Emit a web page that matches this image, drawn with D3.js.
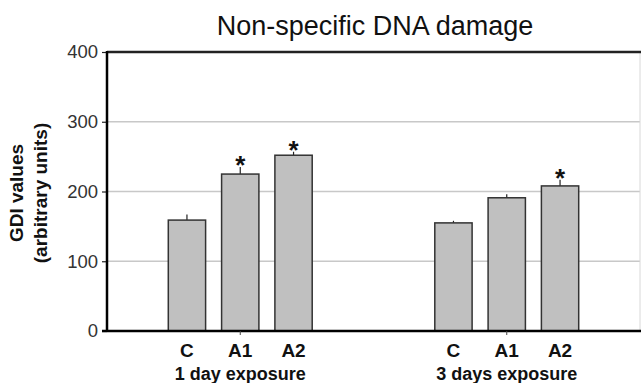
<!DOCTYPE html>
<html><head><meta charset="utf-8">
<script src="https://cdn.jsdelivr.net/npm/d3@7"></script>
<style>body{margin:0;background:#fff}svg{display:block}</style>
</head><body>
<svg id="c" width="641" height="383"></svg>
<script>
const slots = ["s0","C1","A11","A21","s4","s5","C3","A13","A23","s9"];
const barSlots = ["C1","A11","A21","C3","A13","A23"];
const barLabels = ["C","A1","A2","C","A1","A2"];
const values = [159, 225, 252, 155, 191, 208];
const errors = [8, 10, 5, 3, 5, 9];
const significant = [false, true, true, false, false, true];
const groupLabels = ["1 day exposure","3 days exposure"];
const groupCenters = ["A11","A13"];
const yTicks = [0,100,200,300,400];
const title = "Non-specific DNA damage";
const yTitle = ["GDI values","(arbitrary units)"];

const svg = d3.select("#c");
const L=107, R=640, T=52, B=331;
const font = "Liberation Sans, Arial, sans-serif";
const x = d3.scaleBand().domain(slots).range([L,R]).paddingInner(0.3).paddingOuter(0.15);
const y = d3.scaleLinear().domain([0,400]).range([B,T]);

// grid
svg.append("g").selectAll("line").data(yTicks.filter(d=>d>0&&d<400)).join("line")
  .attr("x1",L).attr("x2",R).attr("y1",d=>y(d)).attr("y2",d=>y(d))
  .attr("stroke","#c8c8c8").attr("stroke-width",1.3);

// right border
svg.append("line").attr("x1",R).attr("x2",R).attr("y1",T).attr("y2",B).attr("stroke","#d8d8d8");
// top border
svg.append("line").attr("x1",L).attr("x2",641).attr("y1",T).attr("y2",T).attr("stroke","#222").attr("stroke-width",2.5);

// bars
const bw = x.bandwidth();
svg.append("g").selectAll("line").data(values).join("line")
  .attr("x1",(d,i)=>x(barSlots[i])+bw/2).attr("x2",(d,i)=>x(barSlots[i])+bw/2)
  .attr("y1",d=>y(d)).attr("y2",(d,i)=>y(d+errors[i]))
  .attr("stroke","#222").attr("stroke-width",1.2);
svg.append("g").selectAll("rect").data(values).join("rect")
  .attr("x",(d,i)=>x(barSlots[i])).attr("width",bw)
  .attr("y",d=>y(d)).attr("height",d=>B-y(d))
  .attr("fill","#c0c0c0").attr("stroke","#333").attr("stroke-width",1.5);

// asterisks
svg.append("g").selectAll("text").data(values.map((d,i)=>({d,i})).filter(o=>significant[o.i])).join("text")
  .attr("x",o=>x(barSlots[o.i])+bw/2).attr("y",o=>y(o.d+errors[o.i])+7)
  .attr("text-anchor","middle").attr("font-family",font)
  .attr("font-weight","bold").attr("font-size",26).attr("fill","#111").text("*");

// y axis
const ya = svg.append("g").attr("transform",`translate(${L},0)`)
  .call(d3.axisLeft(y).tickValues(yTicks).tickSize(5).tickPadding(4));
ya.select(".domain").remove();
ya.selectAll(".tick line").attr("stroke","#222").attr("stroke-width",1.2);
ya.selectAll(".tick text").attr("font-family",font).attr("font-size",18.5).attr("fill","#333");
svg.append("line").attr("x1",L).attr("x2",L).attr("y1",T-1).attr("y2",B+1).attr("stroke","#000").attr("stroke-width",2.5);

// x axis
svg.append("line").attr("x1",L-5).attr("x2",641).attr("y1",B).attr("y2",B).attr("stroke","#000").attr("stroke-width",2.5);
svg.append("g").selectAll("line").data(groupCenters).join("line")
  .attr("x1",d=>x(d)+bw/2).attr("x2",d=>x(d)+bw/2).attr("y1",B).attr("y2",B+4).attr("stroke","#444");

svg.append("g").selectAll("text").data(barLabels).join("text")
  .attr("x",(d,i)=>x(barSlots[i])+bw/2).attr("y",357)
  .attr("text-anchor","middle").attr("font-family",font).attr("font-weight","bold")
  .attr("font-size",19).attr("fill","#111").text(d=>d);
svg.append("g").selectAll("text").data(groupLabels).join("text")
  .attr("x",(d,i)=>x(groupCenters[i])+bw/2).attr("y",380)
  .attr("text-anchor","middle").attr("font-family",font).attr("font-weight","bold")
  .attr("font-size",18).attr("fill","#111").text(d=>d);

// title
svg.append("text").attr("x",375).attr("y",35).attr("text-anchor","middle")
  .attr("font-family",font).attr("font-size",27).attr("fill","#111").text(title);

// y title
svg.append("g").attr("transform","translate(0,193) rotate(-90)").selectAll("text").data(yTitle).join("text")
  .attr("x",0).attr("y",(d,i)=>23+i*24).attr("text-anchor","middle")
  .attr("font-family",font).attr("font-weight","bold").attr("font-size",19)
  .attr("fill","#111").text(d=>d);
</script>
</body></html>
